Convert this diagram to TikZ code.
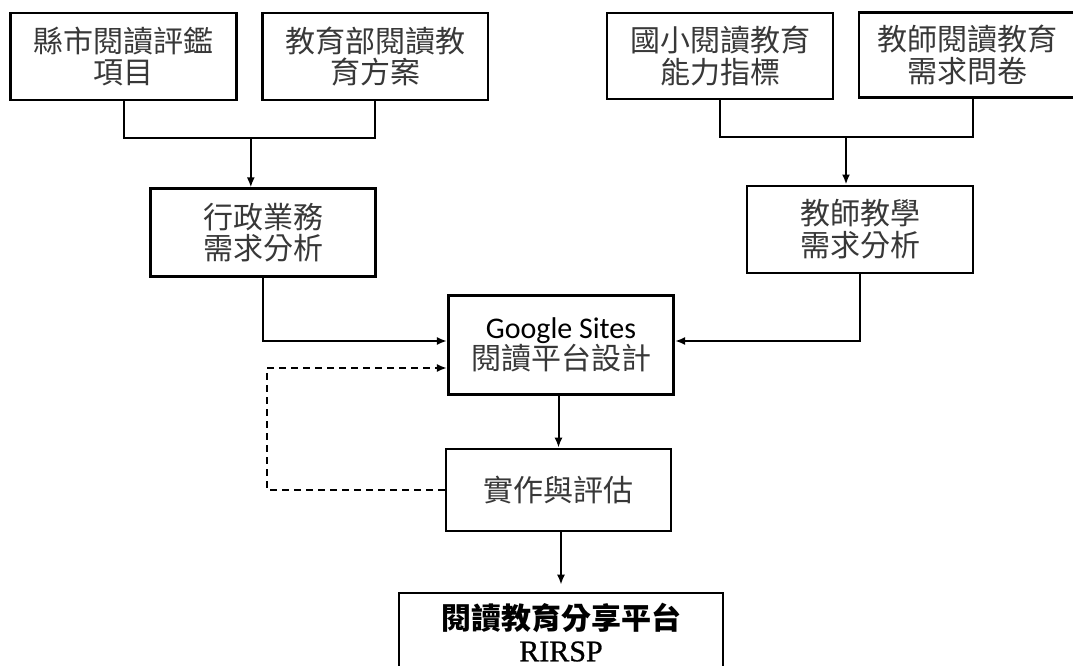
\documentclass[tikz,border=0pt]{standalone}
\usepackage{fontspec}
\newfontfamily\cjk{Noto Sans CJK TC}
\newfontfamily\gsfont{Carlito}
\newfontfamily\tmsfont{Liberation Serif}[FakeBold=0.8]
\usetikzlibrary{arrows.meta}
\begin{document}
\begin{tikzpicture}[x=1pt,y=-1pt,
  box/.style={draw=black, line width=2.6pt, inner sep=0pt, align=center,
    font=\cjk\fontsize{30}{31.5}\selectfont, text=black!78},
  conn/.style={line width=2pt},
  arr/.style={conn, -{Latex[length=10pt,width=8pt]}},
  dashline/.style={dash pattern=on 7pt off 5pt}
]
\useasboundingbox (0,0) rectangle (1073,666);
\fill[white] (0,0) rectangle (1073,666);
\clip (0,0) rectangle (1073,666);

\node[box, minimum width=226pt, minimum height=87pt] (b1) at (123.5,56.5) {縣市閱讀評鑑\\項目};
\node[box, minimum width=225.5pt, minimum height=87pt] (b2) at (375.3,56.5) {教育部閱讀教\\育方案};
\node[box, minimum width=226pt, minimum height=86pt] (b4) at (720,56) {國小閱讀教育\\能力指標};
\node[box, minimum width=228pt, minimum height=85pt] (b5) at (973,55) {教師閱讀教育\hspace*{12pt}\\需求問卷\hspace*{12pt}};
\node[box, minimum width=225pt, minimum height=87.5pt] (b3) at (263,232.5) {行政業務\\需求分析};
\node[box, minimum width=226pt, minimum height=87pt] (b6) at (860,229.3) {教師教學\\需求分析};
\node[box, text=black, minimum width=225.5pt, minimum height=98.5pt] (g) at (561,345) {{\gsfont Google Sites}\\{\color{black!78}閱讀平台設計}};
\node[box, minimum width=225pt, minimum height=82pt] (e) at (558.5,490) {實作與評估};
\node[box, text=black, minimum width=324pt, minimum height=79pt] (f) at (561,632.5) {{\bfseries 閱讀教育分享平台}\\{\tmsfont\fontsize{30}{31.5}\selectfont RIRSP}};

\coordinate (j1) at (250.8,138.4);
\coordinate (j2) at (846,137);
\coordinate (gin) at (0,341);
\coordinate (fb) at (267,368);

\draw[conn] (b1.south) |- (j1) -| (b2.south);
\draw[arr] (j1) -- (j1 |- b3.north);
\draw[conn] (b4.south) |- (j2) -| (b5.south);
\draw[arr] (j2) -- (j2 |- b6.north);
\draw[arr] (b3.south) |- (g.west |- gin);
\draw[arr] (b6.south) |- (g.east |- gin);
\draw[arr, dashline] (e.west) -| (fb) -- (g.west |- fb);
\draw[arr] (e.north |- g.south) -- (e.north);
\draw[arr, shorten >=7pt] (f.north |- e.south) -- (f.north);
\end{tikzpicture}
\end{document}
